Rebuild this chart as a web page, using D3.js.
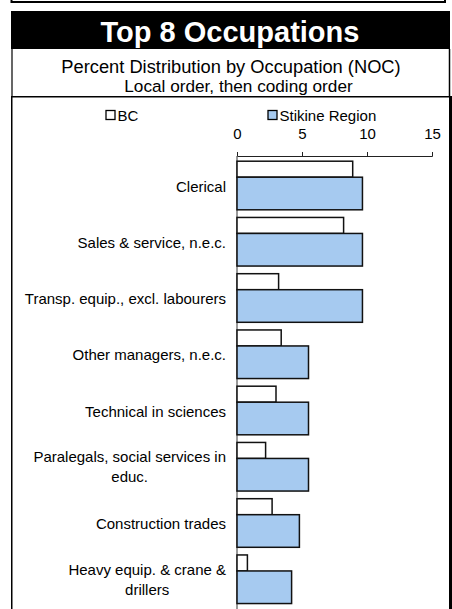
<!DOCTYPE html>
<html>
<head>
<meta charset="utf-8">
<script src="https://cdn.jsdelivr.net/npm/d3@7"></script>
<style>
  html, body { margin: 0; padding: 0; background: #fff; }
  svg { display: block; font-family: "Liberation Sans", Arial, Helvetica, sans-serif; }
</style>
</head>
<body>
<svg id="chart" width="452" height="609"></svg>
<script>
// ---- data ----
const categories = [
  "Clerical",
  "Sales & service, n.e.c.",
  "Transp. equip., excl. labourers",
  "Other managers, n.e.c.",
  "Technical in sciences",
  "Paralegals, social services in\neduc.",
  "Construction trades",
  "Heavy equip. & crane &\ndrillers"
];
const bcValues = [8.9, 8.2, 3.2, 3.4, 3.0, 2.2, 2.7, 0.8];
const stikineValues = [9.65, 9.65, 9.65, 5.5, 5.5, 5.5, 4.8, 4.2];
const seriesNames = ["BC", "Stikine Region"];
const seriesColors = ["#ffffff", "#a6caf0"];
const tickValues = [0, 5, 10, 15];
const titleText = "Top 8 Occupations";
const subtitleLines = ["Percent Distribution by Occupation (NOC)", "Local order, then coding order"];

// ---- drawing ----
const svg = d3.select("#chart");

// frames
svg.append("path").attr("d", "M11.5,-2 V2 H445 V-2")
  .attr("fill", "none").attr("stroke", "#000").attr("stroke-width", 2);
svg.append("rect").attr("x", 11).attr("y", 11).attr("width", 439).attr("height", 38).attr("fill", "#000");
svg.append("line").attr("x1", 12).attr("x2", 12).attr("y1", 49).attr("y2", 97)
  .attr("stroke", "#000").attr("stroke-width", 1.2);
svg.append("line").attr("x1", 449.5).attr("x2", 449.5).attr("y1", 49).attr("y2", 97)
  .attr("stroke", "#000").attr("stroke-width", 1.5);
svg.append("line").attr("x1", 11).attr("x2", 451).attr("y1", 96.75).attr("y2", 96.75)
  .attr("stroke", "#000").attr("stroke-width", 1.5);
svg.append("line").attr("x1", 11.75).attr("x2", 11.75).attr("y1", 96).attr("y2", 609)
  .attr("stroke", "#000").attr("stroke-width", 1.5);
svg.append("line").attr("x1", 450.5).attr("x2", 450.5).attr("y1", 96).attr("y2", 609)
  .attr("stroke", "#000").attr("stroke-width", 3);

// title
svg.append("text").attr("x", 230).attr("y", 41.5).attr("text-anchor", "middle")
  .attr("fill", "#fff").attr("font-weight", "bold").attr("font-size", 29)
  .text(titleText);
svg.append("text").attr("x", 231).attr("y", 72.6).attr("text-anchor", "middle")
  .attr("font-size", 18.3).attr("fill", "#000").text(subtitleLines[0]);
svg.append("text").attr("x", 238.5).attr("y", 92.3).attr("text-anchor", "middle")
  .attr("font-size", 17.2).attr("fill", "#000").text(subtitleLines[1]);

// legend
const legendX = [106, 268];
seriesNames.forEach((name, i) => {
  svg.append("rect").attr("x", legendX[i]).attr("y", 110.5).attr("width", 9).attr("height", 9)
    .attr("fill", seriesColors[i]).attr("stroke", "#000").attr("stroke-width", 1.3);
  svg.append("text").attr("x", legendX[i] + 11.5).attr("y", 120.5)
    .attr("font-size", 15).attr("fill", "#000").text(name);
});

// scales
const x = d3.scaleLinear().domain([0, 15]).range([237, 432]);
const y = d3.scaleBand().domain(categories).range([156, 606]).paddingInner(0).paddingOuter(0);

// top axis
const axisG = svg.append("g").attr("transform", "translate(0,156)")
  .call(d3.axisTop(x).tickValues(tickValues).tickSize(4).tickSizeOuter(4).tickPadding(13.5));
axisG.select(".domain").attr("stroke", "#222").attr("stroke-width", 1);
axisG.selectAll(".tick line").attr("stroke", "#222").attr("stroke-width", 1);
axisG.selectAll(".tick text").attr("font-size", 15).attr("fill", "#000")
  .attr("font-family", "'Liberation Sans', Arial, sans-serif");

// vertical category axis line
svg.append("line").attr("x1", x(0)).attr("x2", x(0)).attr("y1", 156).attr("y2", 609)
  .attr("stroke", "#555").attr("stroke-width", 1.2);

// bars
const bars = svg.append("g");
categories.forEach((c, i) => {
  const y0 = y(c);
  bars.append("rect")
    .attr("x", x(0)).attr("y", y0 + 5.2)
    .attr("width", x(bcValues[i]) - x(0)).attr("height", 16)
    .attr("fill", seriesColors[0]).attr("stroke", "#111").attr("stroke-width", 1.5);
  bars.append("rect")
    .attr("x", x(0)).attr("y", y0 + 21.2)
    .attr("width", x(stikineValues[i]) - x(0)).attr("height", 32.6)
    .attr("fill", seriesColors[1]).attr("stroke", "#111").attr("stroke-width", 1.5);
});

// category labels
categories.forEach((c) => {
  const lines = c.split("\n");
  const cy = y(c) + y.bandwidth() / 2;
  const t = svg.append("text").attr("font-size", 15).attr("fill", "#000");
  if (lines.length === 1) {
    t.attr("x", 226).attr("y", cy + 7.5).attr("text-anchor", "end").text(lines[0]);
  } else {
    const tmp = svg.append("text").attr("font-size", 15).text(lines[0]);
    const w = tmp.node().getComputedTextLength();
    tmp.remove();
    const xc = 226 - w / 2;
    lines.forEach((ln, j) => {
      t.append("tspan").attr("x", xc).attr("y", cy + 7 + (j - (lines.length - 1) / 2) * 20)
        .attr("text-anchor", "middle").text(ln);
    });
  }
});
</script>
</body>
</html>
